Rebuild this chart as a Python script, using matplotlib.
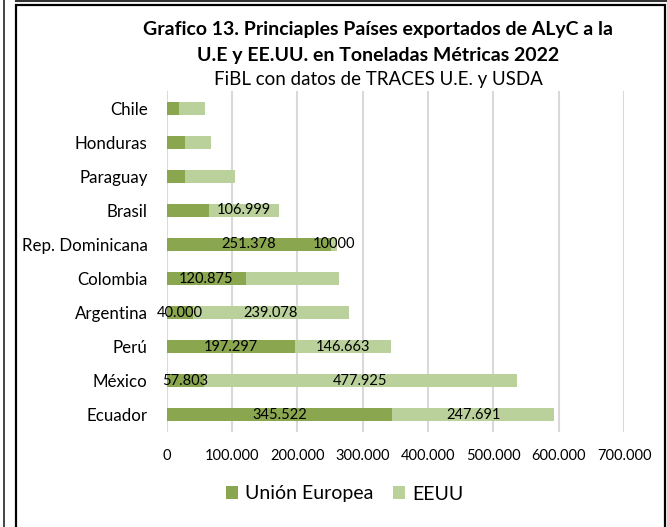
import matplotlib
matplotlib.use("Agg")
import matplotlib.pyplot as plt
from matplotlib.patches import Rectangle
from matplotlib.lines import Line2D

plt.rcParams['font.family'] = ['Lato', 'DejaVu Sans']

categories = ["Ecuador", "México", "Perú", "Argentina", "Colombia",
              "Rep. Dominicana", "Brasil", "Paraguay", "Honduras", "Chile"]
ue = [345522, 57803, 197297, 40000, 120875, 251378, 65000, 28000, 28000, 18500]
eeuu = [247691, 477925, 146663, 239078, 143500, 10000, 106999, 77500, 40500, 40500]
ue_labels = ["345.522", "57.803", "197.297", "40.000", "120.875", "251.378", "", "", "", ""]
eeuu_labels = ["247.691", "477.925", "146.663", "239.078", "", "10000", "106.999", "", "", ""]
xticks = [0, 100000, 200000, 300000, 400000, 500000, 600000, 700000]
xtick_labels = ["0", "100.000", "200.000", "300.000", "400.000", "500.000", "600.000", "700.000"]

W, H = 667, 527
fig = plt.figure(figsize=(W / 100, H / 100), dpi=100)

ax_left, ax_right, ax_top, ax_bottom = 166.5, 624, 91, 432
ax = fig.add_axes([ax_left / W, 1 - ax_bottom / H, (ax_right - ax_left) / W, (ax_bottom - ax_top) / H])

c_ue = "#8aa64f"
c_us = "#bad19b"
y = list(range(len(categories)))
b1 = ax.barh(y, ue, height=0.38, color=c_ue, label="Unión Europea", zorder=3)
b2 = ax.barh(y, eeuu, left=ue, height=0.38, color=c_us, label="EEUU", zorder=3)
ax.bar_label(b1, labels=ue_labels, label_type="center", fontsize=10.5, color="#000000")
ax.bar_label(b2, labels=eeuu_labels, label_type="center", fontsize=10.5, color="#000000")

ax.set_xlim(0, 700000)
ax.set_ylim(-0.5, len(categories) - 0.5)
ax.set_xticks(xticks)
ax.set_xticklabels(xtick_labels, fontsize=10.5)
ax.set_yticks(y)
ax.set_yticklabels(categories, fontsize=12.2)
ax.tick_params(axis="both", length=0)
ax.tick_params(axis="x", pad=12)
ax.tick_params(axis="y", pad=13.5)
ax.grid(axis="x", color="#d9d9d9", linewidth=1.5, zorder=0)
for s in ax.spines.values():
    s.set_visible(False)

tx = 378 / W
fig.text(tx, 1 - 30 / H, "Grafico 13. Princiaples Países exportados de ALyC a la",
         ha="center", va="center", fontsize=14, fontweight="bold")
fig.text(tx, 1 - 55 / H, "U.E y EE.UU. en Toneladas Métricas 2022",
         ha="center", va="center", fontsize=14, fontweight="bold")
fig.text(tx, 1 - 80 / H, "FiBL con datos de TRACES U.E. y USDA",
         ha="center", va="center", fontsize=13.5)

leg = fig.legend(loc="center", bbox_to_anchor=(345 / W, 1 - 494 / H), ncol=2, frameon=False,
                 fontsize=14, handlelength=0.6, handleheight=0.6, columnspacing=1.0, handletextpad=0.4)

# frames
fig.add_artist(Rectangle((16 / W, -0.05), (665 - 16) / W, 1.05 - 5 / H, transform=fig.transFigure,
                         fill=False, edgecolor="black", linewidth=1.6))
fig.add_artist(Line2D([3.5 / W, 3.5 / W], [0, 1], transform=fig.transFigure, color="#222222", linewidth=1.2))
fig.add_artist(Line2D([16 / W, 1], [1 - 1 / H, 1 - 1 / H], transform=fig.transFigure, color="#333333", linewidth=1.5))

fig.savefig("out.png", dpi=100)
